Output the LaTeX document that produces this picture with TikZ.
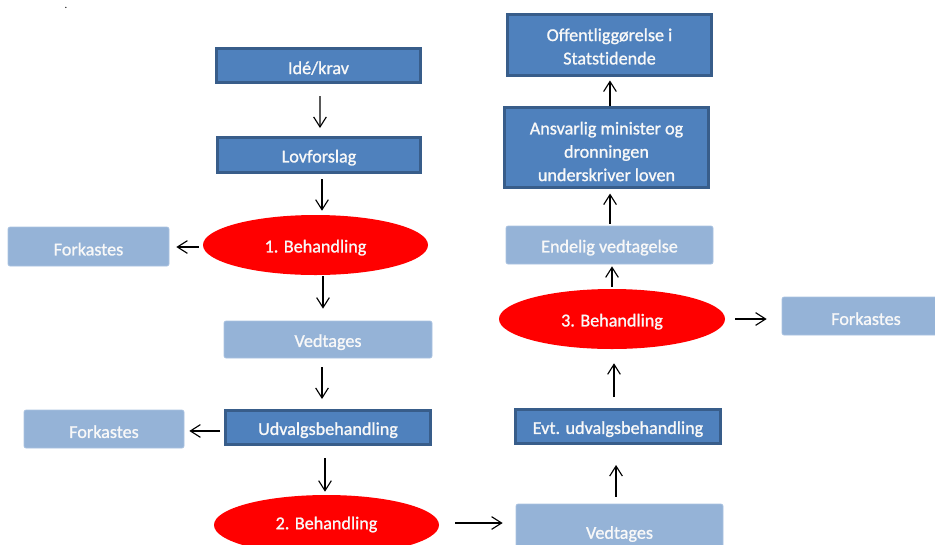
\documentclass[tikz,border=0pt]{standalone}
\usepackage{fontspec}
\setmainfont{Carlito}[Ligatures=NoCommon]
\newfontfamily\heavy{Carlito}[FakeBold=1.1, Ligatures=NoCommon]
\usetikzlibrary{arrows.meta,shapes.geometric}
\definecolor{dkfill}{RGB}{79,129,189}
\definecolor{dkline}{RGB}{56,93,138}
\definecolor{ltfill}{RGB}{149,179,215}
\definecolor{ltline}{RGB}{170,195,225}
\definecolor{redfill}{RGB}{255,0,0}
\definecolor{txt}{RGB}{248,248,248}
\begin{document}
\begin{tikzpicture}[x=0.75pt,y=-0.75pt,
  every node/.style={font=\heavy\fontsize{13.6}{17.5}\selectfont, text=txt, align=center, inner sep=0pt},
  dkbox/.style={rectangle, fill=dkfill, draw=dkline, line width=2.25pt},
  ltbox/.style={rectangle, fill=ltfill, draw=ltline, line width=0.5pt, rounded corners=1.5pt},
  oval/.style={ellipse, fill=redfill, minimum width=168.75pt, minimum height=45pt},
  tx/.style={label={[yshift=-2pt]center:#1}},
  arr/.style={-{Straight Barb[length=7.5pt,width=9.5pt]}, line width=0.85pt, black}
]
\useasboundingbox (0,0) rectangle (935,544);
\clip (0,0) rectangle (935,544);

\node[text=black, font=\fontsize{8}{8}\selectfont] (dot) at (66,8) {.};

% left column
\node[dkbox, minimum width=153pt, minimum height=25.5pt, tx={Idé/krav}] (ide) at (318.5,65.5) {};
\node[dkbox, minimum width=152.25pt, minimum height=26.25pt, tx={Lovforslag}] (lov) at (319,155) {};
\node[oval, tx={1. Behandling}] (e1) at (315.5,245) {};
\node[ltbox, minimum width=120.75pt, minimum height=29.25pt, tx={Forkastes}] (fork1) at (88.5,246.5) {};
\node[ltbox, minimum width=156pt, minimum height=27.75pt, tx={Vedtages}] (ved1) at (328,339.5) {};
\node[dkbox, minimum width=153.75pt, minimum height=25.5pt, tx={Udvalgsbehandling}] (udv) at (328,427.5) {};
\node[ltbox, minimum width=120pt, minimum height=28.5pt, tx={Forkastes}] (fork2) at (104,429) {};
\node[oval] (e2) at (326.5,525) {};
\node (e2t) at (326.5,524.5) {2. Behandling};

% right column
\node[ltbox, minimum width=155.25pt, minimum height=43.5pt] (ved2) at (619.5,533) {};
\node (ved2t) at (619.5,534) {Vedtages};
\node[dkbox, minimum width=153.75pt, minimum height=25.5pt, tx={Evt. udvalgsbehandling}] (evt) at (618,426.5) {};
\node[oval, minimum width=169.5pt, tx={3. Behandling}] (e3) at (612,319) {};
\node[ltbox, minimum width=126pt, minimum height=28.5pt, tx={Forkastes}] (fork3) at (866,316) {};
\node[ltbox, minimum width=155.25pt, minimum height=28.5pt, tx={Endelig vedtagelse}] (end) at (609.5,245) {};
\node[dkbox, minimum width=153pt, minimum height=60pt] (ans) at (606.5,147.5) {};
\node (anst) at (606.5,151.5) {Ansvarlig minister og\\dronningen\\underskriver loven};
\node[dkbox, minimum width=153pt, minimum height=45.75pt] (off) at (609.5,45) {};
\node (offt) at (609.5,46.5) {Offentliggørelse i\\Statstidende};

% connectors
\draw[arr, shorten <=9pt, shorten >=6pt] ([xshift=1.1pt]ide.south) -- ([xshift=0.75pt]lov.north);
\draw[arr, shorten <=3.75pt, shorten >=3pt] ([xshift=2.25pt]lov.south) -- ([xshift=2.25pt]lov.south |- e1.north);
\draw[arr, shorten <=0.75pt, shorten >=9pt] ([xshift=-3.75pt]ved1.north |- e1.south) -- ([xshift=-3.75pt]ved1.north);
\draw[arr, shorten <=6.75pt, shorten >=7.5pt] ([xshift=-4.5pt]ved1.south) -- ([xshift=-4.5pt]udv.north);
\draw[arr, shorten <=9pt, shorten >=2.25pt] ([xshift=-2.25pt]udv.south) -- ([xshift=-2.25pt]udv.south |- e2.north);
\draw[arr, shorten <=3pt, shorten >=5.25pt] ([yshift=-1.5pt]e1.west) -- ([yshift=-1.5pt]e1.west -| fork1.east);
\draw[arr, shorten <=3pt, shorten >=3.75pt] ([yshift=-2.6pt]udv.west) -- ([yshift=-2.6pt]udv.west -| fork2.east);
\draw[arr, shorten <=12pt, shorten >=9.75pt] ([yshift=1.5pt]e2.east) -- ([yshift=1.5pt]e2.east -| ved2.west);
\draw[arr, shorten <=5.25pt, shorten >=15pt] ([xshift=-2.6pt]ved2.north) -- ([xshift=-2.6pt]ved2.north |- evt.south);
\draw[arr, shorten <=8.25pt, shorten >=10.5pt] ([xshift=-3pt]evt.north) -- ([xshift=-3pt]evt.north |- e3.south);
\draw[arr, shorten <=1.5pt, shorten >=1.5pt] (e3.north) -- (e3.north |- end.south);
\draw[arr, shorten <=1.5pt, shorten >=3.4pt] ([xshift=0.4pt]end.north) -- ([xshift=0.4pt]end.north |- ans.south);
\draw[arr, shorten <=0pt, shorten >=2.6pt] ([xshift=2.6pt]ans.north) -- ([xshift=2.6pt]ans.north |- off.south);
\draw[arr, shorten <=7.5pt, shorten >=11.25pt] (e3.east) -- (e3.east -| fork3.west);
\end{tikzpicture}
\end{document}
